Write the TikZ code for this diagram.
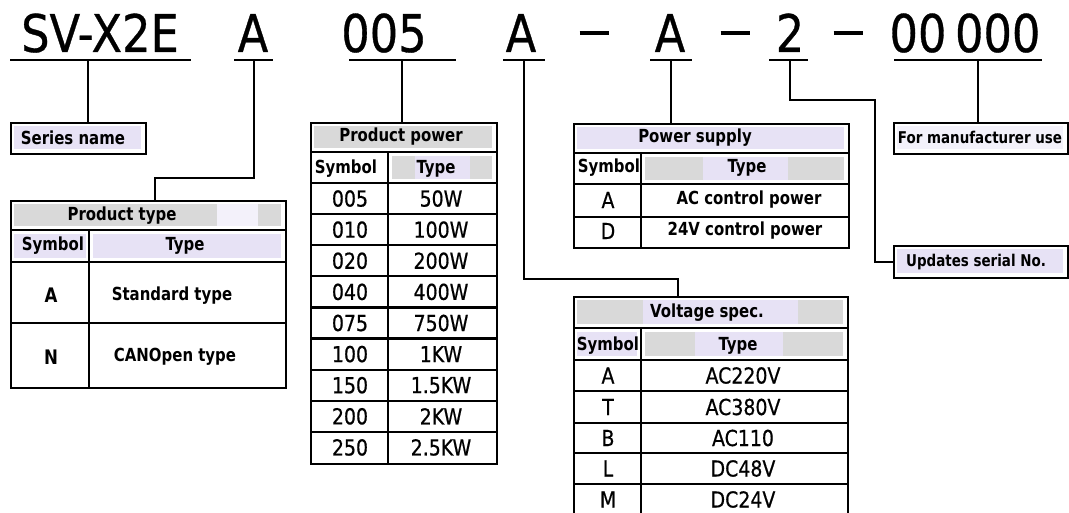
\documentclass[tikz,border=0pt]{standalone}
\usepackage{fontspec}
\setmainfont{DejaVu Sans}[FakeStretch=0.88]
\newfontfamily\lblfont{DejaVu Sans}[FakeStretch=0.83]
\newfontfamily\datfont{DejaVu Sans}[FakeStretch=0.86,FakeBold=0.6]
\definecolor{hdrgrey}{RGB}{217,217,217}
\definecolor{hdrlav}{RGB}{231,226,245}
\definecolor{hdrpale}{RGB}{243,241,250}
\begin{document}
\begin{tikzpicture}[x=1pt,y=-1pt,
    codetxt/.style={font=\datfont\fontsize{52}{52}\selectfont,inner sep=0,anchor=base},
    lbl/.style={font=\lblfont\bfseries\fontsize{18}{18}\selectfont,inner sep=0},
    dat/.style={font=\datfont\fontsize{22}{22}\selectfont,inner sep=0},
    frame/.style={draw,line width=2.4pt,inner sep=0,anchor=north west},
    uline/.style={line width=2.6pt},
    conn/.style={line width=1.8pt},
    rule/.style={line width=2.2pt}]
    \useasboundingbox (0,0) rectangle (1069,513);
    \clip (0,0) rectangle (1069,513);
    %% model code
    \node[codetxt] (cser) at (100,52) {SV-X2E};
    \node[codetxt] (ctyp) at (253,52) {A};
    \node[codetxt] (cpow) at (384,52) {005};
    \node[codetxt] (cvol) at (521,52) {A};
    \node[inner sep=0] (d1) at (594,33) {\rule{29pt}{3.4pt}};
    \node[codetxt] (csup) at (670,52) {A};
    \node[inner sep=0] (d2) at (735,33) {\rule{29pt}{3.4pt}};
    \node[codetxt] (cupd) at (790,52) {2};
    \node[inner sep=0] (d3) at (848,33) {\rule{29pt}{3.4pt}};
    \node[codetxt] (cmfr) at (965,52) {00\,000};
    \draw[uline] (10,60) -- (191,60);
    \draw[uline] (234,60) -- (273,60);
    \draw[uline] (349,60) -- (456,60);
    \draw[uline] (503,60) -- (545,60);
    \draw[uline] (650,60) -- (692,60);
    \draw[uline] (769,60) -- (808,60);
    \draw[uline] (894,60) -- (1042,60);
    \coordinate (u1) at (88,60);
    \coordinate (u2) at (254,60);
    \coordinate (u3) at (402,60);
    \coordinate (u4) at (524,60);
    \coordinate (u5) at (671,60);
    \coordinate (u6) at (790,60);
    \coordinate (u7) at (978,60);
    %% header shading
    \fill[hdrlav] (14,126) rectangle (141,149);
    \fill[hdrgrey] (14,204) rectangle (281,226);
    \fill[hdrpale] (217,204) rectangle (258,226);
    \fill[hdrlav] (14,234) rectangle (86,258);
    \fill[hdrlav] (93,234) rectangle (281,258);
    \fill[hdrgrey] (314,126) rectangle (492,148);
    \fill[hdrgrey] (392,156) rectangle (492,179);
    \fill[hdrlav] (415,156) rectangle (470,179);
    \fill[hdrlav] (577,127) rectangle (844,149);
    \fill[hdrgrey] (645,157) rectangle (844,180);
    \fill[hdrlav] (703,157) rectangle (788,180);
    \fill[hdrgrey] (577,300) rectangle (843,324);
    \fill[hdrlav] (643,300) rectangle (798,324);
    \fill[hdrlav] (577,332) rectangle (637,356);
    \fill[hdrgrey] (645,332) rectangle (843,356);
    \fill[hdrlav] (695,332) rectangle (783,356);
    \fill[hdrpale] (897,126) rectangle (1063,149);
    \fill[hdrlav] (897,249) rectangle (1063,273);
    %% boxes
    \node[frame,minimum width=135,minimum height=31] (ser) at (10,122) {};
    \node[frame,minimum width=275,minimum height=187] (pttab) at (10,200) {};
    \node[frame,minimum width=186,minimum height=341] (pptab) at (310,122) {};
    \node[frame,minimum width=275,minimum height=124] (pstab) at (573,123) {};
    \node[frame,minimum width=274,minimum height=220] (vstab) at (573,296) {};
    \node[frame,minimum width=174,minimum height=31] (mfr) at (893,122) {};
    \node[frame,minimum width=174,minimum height=32] (upd) at (893,245) {};
    %% product type
    \foreach \y in {230,262,323} \draw[rule] (10,\y) -- (285,\y);
    \draw[rule] (89,230) -- (89,387);
    \node[lbl] (pttitle) at (122,216) {Product type};
    \node[lbl] (ptsym) at (53,246) {Symbol};
    \node[lbl] (pttype) at (185,246) {Type};
    \node[lbl,font=\lblfont\bfseries\fontsize{20}{20}\selectfont] (ptA) at (51,295) {A};
    \node[lbl] (ptAt) at (172,296) {Standard type};
    \node[lbl,font=\lblfont\bfseries\fontsize{20}{20}\selectfont] (ptN) at (51,357) {N};
    \node[lbl] (ptNt) at (175,357) {CANOpen type};
    %% product power
    \draw[rule] (310,152) -- (496,152);
    \foreach \i in {0,...,8} \draw[rule] (310,{183+31.11*\i}) -- (496,{183+31.11*\i});
    \draw[rule] (388,152) -- (388,463);
    \node[lbl] (pptitle) at (401,137) {Product power};
    \node[lbl] (ppsym) at (346,169) {Symbol};
    \node[lbl] (pptype) at (436,169) {Type};
    \foreach \s/\t [count=\i] in {005/50W,010/100W,020/200W,040/400W,075/750W,100/1KW,150/1.5KW,200/2KW,250/2.5KW}{
        \node[dat] (pps\i) at (350,{183+31.11*(\i-0.5)}) {\s};
        \node[dat] (ppt\i) at (441,{183+31.11*(\i-0.5)}) {\t};
    }
    %% power supply
    \foreach \y in {153,184,217} \draw[rule] (573,\y) -- (848,\y);
    \draw[rule] (641,153) -- (641,247);
    \node[lbl] (pstitle) at (695,138) {Power supply};
    \node[lbl] (pssym) at (609,168) {Symbol};
    \node[lbl] (pstype) at (747,168) {Type};
    \node[dat] (psA) at (608,200) {A};
    \node[lbl] (psAt) at (749,200) {AC control power};
    \node[dat] (psD) at (608,231) {D};
    \node[lbl] (psDt) at (745,231) {24V control power};
    %% voltage spec
    \foreach \y in {328,360,391,423,453,484} \draw[rule] (573,\y) -- (847,\y);
    \draw[rule] (641,328) -- (641,516);
    \node[lbl] (vstitle) at (707,313) {Voltage spec.};
    \node[lbl] (vssym) at (608,346) {Symbol};
    \node[lbl] (vstype) at (738,346) {Type};
    \foreach \s/\t/\y in {A/AC220V/375.5,T/AC380V/407,B/AC110/438,L/DC48V/468.5,M/DC24V/499.5}{
        \node[dat] (vs\s) at (608,\y) {\s};
        \node[dat] (vs\s t) at (743,\y) {\t};
    }
    %% single boxes
    \node[lbl] (sertxt) at (73,138) {Series name};
    \node[lbl,font=\lblfont\bfseries\fontsize{16.2}{16.2}\selectfont] (mfrtxt) at (980,137) {For manufacturer use};
    \node[lbl,font=\lblfont\bfseries\fontsize{16.2}{16.2}\selectfont] (updtxt) at (976,262) {Updates serial No.};
    %% connectors
    \coordinate (ptin) at (155,200);
    \coordinate (vsin) at (678,296);
    \coordinate (bend) at (875,100);
    \draw[conn] (u1) -- (u1 |- ser.north);
    \draw[conn] (u2) -- ++(0,118) -| (ptin);
    \draw[conn] (u3) -- (u3 |- pptab.north);
    \draw[conn] (u4) -- ++(0,219) -| (vsin);
    \draw[conn] (u5) -- (u5 |- pstab.north);
    \draw[conn] (u6) |- (bend) |- (upd.west);
    \draw[conn] (u7) -- (u7 |- mfr.north);
\end{tikzpicture}
\end{document}
